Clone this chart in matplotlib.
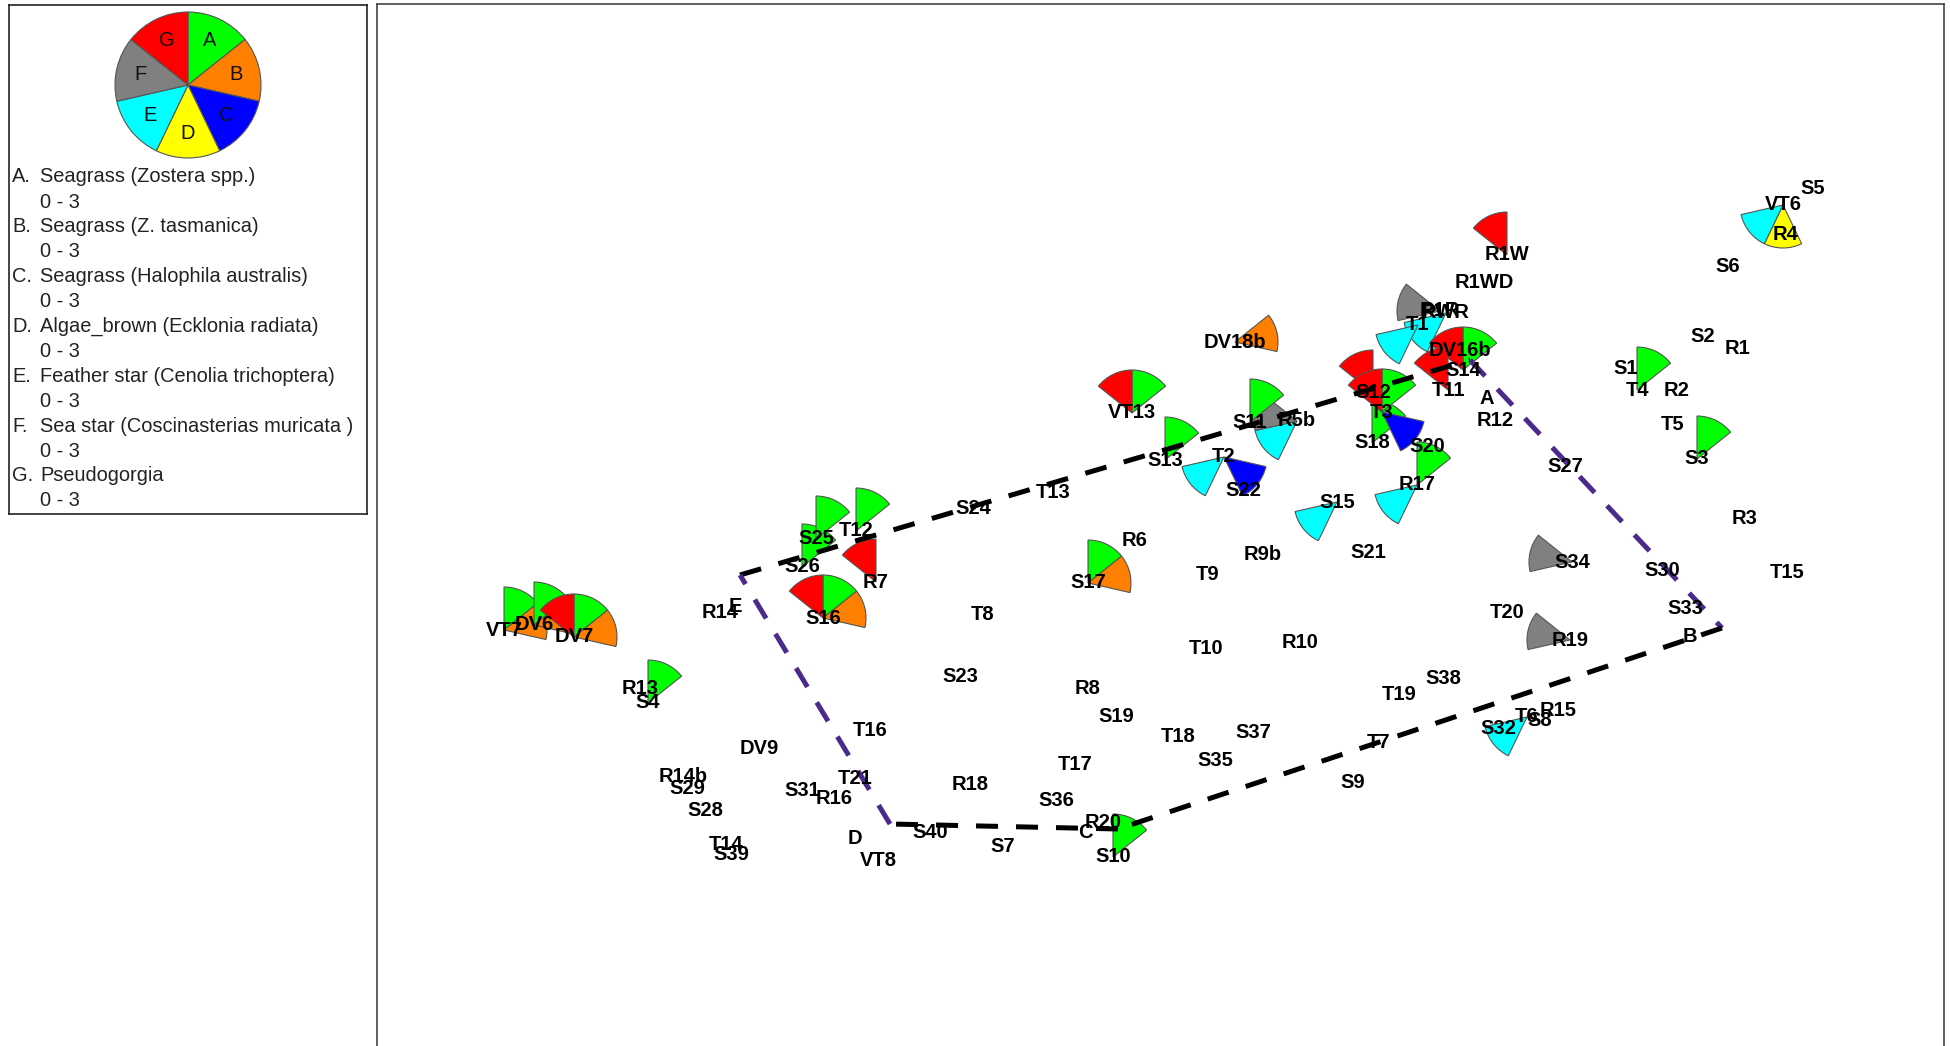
import numpy as np
import matplotlib
matplotlib.use("Agg")
import matplotlib.pyplot as plt
from matplotlib.patches import Wedge

plt.rcParams['font.family'] = ['Liberation Sans', 'DejaVu Sans']

W, H = 1950, 1046

# survey sites (map units: easting, northing)
sites = ['VT7', 'DV6', 'DV7', 'R14', 'R13', 'S4', 'S25', 'T12', 'S26', 'R7',
         'S16', 'T8', 'S24', 'T13', 'R6', 'S17', 'VT13', 'DV18b', 'S11', 'R5b',
         'S13', 'T2', 'S22', 'S12', 'T3', 'S18', 'S20', 'R17', 'S15', 'DV16b',
         'S14', 'T11', 'R12', 'T1', 'R1R', 'RWR', 'R1W', 'R1WD', 'VT6', 'R4',
         'S5', 'S6', 'S2', 'R1', 'S1', 'T4', 'R2', 'T5', 'S3', 'S27',
         'R3', 'S34', 'S30', 'T15', 'T20', 'S33', 'R19', 'S38', 'T19', 'S37',
         'S35', 'T7', 'S9', 'S32', 'T6', 'S8', 'R15', 'R9b', 'S21', 'T9',
         'T10', 'R10', 'S23', 'R8', 'S19', 'T16', 'DV9', 'T17', 'R14b', 'S29',
         'S31', 'T21', 'R16', 'R18', 'S36', 'S28', 'S40', 'R20', 'T14', 'S39',
         'VT8', 'S7', 'S10', 'T18']
site_x = [504, 534, 574, 720, 640, 648, 816, 856, 802, 876,
          823, 983, 973, 1053, 1135, 1088, 1132, 1235, 1250, 1297,
          1165, 1224, 1243, 1373, 1382, 1372, 1427, 1417, 1337, 1460,
          1463, 1448, 1495, 1418, 1440, 1446, 1507, 1484, 1783, 1785,
          1813, 1728, 1703, 1738, 1626, 1637, 1677, 1673, 1697, 1565,
          1745, 1572, 1662, 1787, 1507, 1685, 1570, 1443, 1399, 1253,
          1215, 1379, 1353, 1498, 1527, 1540, 1558, 1263, 1368, 1208,
          1206, 1300, 960, 1088, 1116, 870, 759, 1075, 683, 687,
          802, 855, 834, 970, 1056, 705, 930, 1103, 726, 731,
          878, 1003, 1113, 1178]
site_y = [416, 421, 409, 434, 358, 343, 507, 515, 479, 464,
          428, 431, 537, 554, 505, 463, 633, 704, 624, 625,
          586, 589, 555, 653, 634, 603, 599, 561, 544, 696,
          676, 656, 626, 721, 735, 733, 791, 763, 841, 811,
          858, 779, 710, 698, 677, 656, 655, 622, 587, 580,
          527, 484, 475, 473, 433, 438, 406, 368, 351, 313,
          286, 304, 263, 318, 329, 325, 335, 492, 493, 472,
          397, 403, 369, 358, 329, 315, 298, 282, 269, 258,
          256, 268, 247, 261, 246, 235, 214, 224, 202, 191,
          186, 199, 189, 310]

# boundary corners
corner_names = ['E', 'A', 'B', 'C', 'D']
corner_x = [740, 1470, 1722, 1118, 890]
corner_y = [471, 686, 418, 217, 222]
edge_colors = ['black', '#4b2a8c', 'black', 'black', '#4b2a8c']
corner_label_x = [735, 1487, 1690, 1085, 855]
corner_label_y = [440, 648, 410, 213, 207]

# segment glyph data (0 - 3)
glyph_sites = ['VT7', 'DV6', 'DV7', 'S4', 'S26', 'S25', 'T12', 'R7', 'S16', 'S17',
               'VT13', 'DV18b', 'R5b', 'S11', 'S13', 'T2', 'S12', 'S18', 'T3', 'R17',
               'S15', 'R1R', 'RWR', 'T1', 'S14', 'T11', 'R1W', 'VT6', 'T4', 'S3',
               'S34', 'R19', 'T6', 'S10']
zostera    = [3, 3, 3, 3, 3, 3, 3, 0, 3, 3, 3, 0, 0, 3, 3, 0, 0, 3, 3, 3, 0, 0, 0, 0, 3, 0, 0, 0, 3, 3, 0, 0, 0, 3]
tasmanica  = [3, 3, 3, 0, 0, 0, 0, 0, 3, 3, 0, 3, 0, 0, 0, 0, 0, 0, 0, 0, 0, 0, 0, 0, 0, 0, 0, 0, 0, 0, 0, 0, 0, 0]
halophila  = [0, 0, 0, 0, 0, 0, 0, 0, 0, 0, 0, 0, 0, 0, 0, 3, 0, 0, 3, 0, 0, 0, 0, 0, 0, 0, 0, 0, 0, 0, 0, 0, 0, 0]
ecklonia   = [0, 0, 0, 0, 0, 0, 0, 0, 0, 0, 0, 0, 0, 0, 0, 0, 0, 0, 0, 0, 0, 0, 0, 0, 0, 0, 0, 3, 0, 0, 0, 0, 0, 0]
cenolia    = [0, 0, 0, 0, 0, 0, 0, 0, 0, 0, 0, 0, 3, 0, 0, 3, 0, 0, 0, 3, 3, 0, 3, 3, 0, 0, 0, 3, 0, 0, 0, 0, 3, 0]
coscinast  = [0, 0, 0, 0, 0, 0, 0, 0, 0, 0, 0, 0, 3, 0, 0, 0, 0, 0, 0, 0, 0, 3, 0, 0, 0, 0, 0, 0, 0, 0, 3, 3, 0, 0]
pseudogorg = [0, 0, 3, 0, 0, 0, 0, 3, 3, 0, 3, 0, 0, 0, 0, 0, 3, 0, 3, 0, 0, 0, 0, 0, 3, 3, 3, 0, 0, 0, 0, 0, 0, 0]

seg_letters = ['A', 'B', 'C', 'D', 'E', 'F', 'G']
seg_colors = ['#00ff00', '#ff8000', '#0000ff', '#ffff00', '#00ffff', '#808080', '#ff0000']
seg_names = ['Seagrass (Zostera spp.)', 'Seagrass (Z. tasmanica)', 'Seagrass (Halophila australis)',
             'Algae_brown (Ecklonia radiata)', 'Feather star (Cenolia trichoptera)',
             'Sea star (Coscinasterias muricata )', 'Pseudogorgia']
seg_range = '0 - 3'

vals = np.array([zostera, tasmanica, halophila, ecklonia, cenolia, coscinast, pseudogorg]).T
step = 360 / 7
r_max = 43

fig = plt.figure(figsize=(W / 100, H / 100), dpi=100)

# ---- main map ----
ax = fig.add_axes([377 / W, -0.03, (1944 - 377) / W, 1.03 - 4 / H])
ax.set_xlim(377, 1944)
ax.set_ylim(-0.03 * H, H - 4)
ax.set_xticks([])
ax.set_yticks([])
for s in ['left', 'top', 'right', 'bottom']:
    ax.spines[s].set_color('#444444')
    ax.spines[s].set_linewidth(1.2)

pos = {n: (x, y) for n, x, y in zip(sites, site_x, site_y)}
for i, n in enumerate(glyph_sites):
    cx, cy = pos[n]
    for k in range(7):
        v = vals[i, k]
        if v <= 0:
            continue
        t2 = 90 - k * step
        t1 = t2 - step
        ax.add_patch(Wedge((cx, cy), v / 3 * r_max, t1, t2, facecolor=seg_colors[k],
                           edgecolor='#555555', linewidth=0.8, zorder=2))

nc = len(corner_x)
for i in range(nc):
    j = (i + 1) % nc
    ax.plot([corner_x[i], corner_x[j]], [corner_y[i], corner_y[j]], color=edge_colors[i],
            linewidth=3.6, linestyle=(0, (4.4, 3.6)), zorder=3, solid_capstyle='butt')

for n, x, y in zip(sites, site_x, site_y):
    ax.text(x, y, n, ha='center', va='center', fontsize=14.5, fontweight='bold', zorder=4)
for n, x, y in zip(corner_names, corner_label_x, corner_label_y):
    ax.text(x, y, n, ha='center', va='center', fontsize=14.5, fontweight='bold', zorder=4)

# ---- key ----
lg = fig.add_axes([9 / W, 1 - 514 / H, 358 / W, 509 / H])
lg.set_xlim(9, 367)
lg.set_ylim(H - 514, H - 5)
lg.set_xticks([])
lg.set_yticks([])
for s in lg.spines.values():
    s.set_color('#222222')
    s.set_linewidth(1.2)

pc = (188, H - 85)
pr = 73
for k in range(7):
    t2 = 90 - k * step
    t1 = t2 - step
    lg.add_patch(Wedge(pc, pr, t1, t2, facecolor=seg_colors[k], edgecolor='#555555', linewidth=0.8))
    mid = np.deg2rad((t1 + t2) / 2)
    lg.text(pc[0] + 0.67 * pr * np.cos(mid), pc[1] + 0.67 * pr * np.sin(mid), seg_letters[k],
            ha='center', va='center', fontsize=14.5, color='#111111')

for k in range(7):
    y0 = H - 177 - k * 49.8
    lg.text(12, y0, seg_letters[k] + '.', ha='left', va='center', fontsize=14.4, color='#222222')
    lg.text(40, y0, seg_names[k], ha='left', va='center', fontsize=14.4, color='#222222')
    lg.text(40, y0 - 25, seg_range, ha='left', va='center', fontsize=14.4, color='#222222')

fig.savefig('out.png', dpi=100)
